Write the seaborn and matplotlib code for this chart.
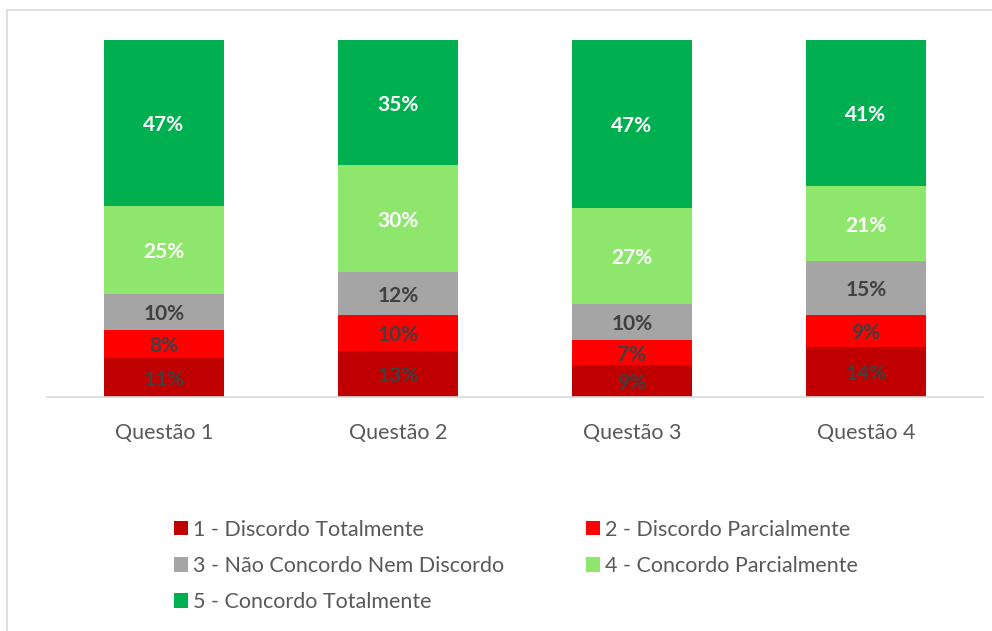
import matplotlib
matplotlib.use('Agg')
import matplotlib.pyplot as plt
import seaborn as sns
import pandas as pd
import numpy as np
from matplotlib.patches import Patch, Rectangle

# data
questions = ['Questão 1', 'Questão 2', 'Questão 3', 'Questão 4']
levels = ['1 - Discordo Totalmente', '2 - Discordo Parcialmente',
          '3 - Não Concordo Nem Discordo', '4 - Concordo Parcialmente',
          '5 - Concordo Totalmente']
discordo_total = [11, 13, 9, 14]
discordo_parcial = [8, 10, 7, 9]
neutro = [10, 12, 10, 15]
concordo_parcial = [25, 30, 27, 21]
concordo_total = [47, 35, 47, 41]

colors = ['#C00000', '#FF0000', '#A5A5A5', '#8FE66C', '#00B050']
label_colors = ['#404040', '#404040', '#404040', 'white', 'white']

sns.set_theme(style='white')
plt.rcParams['font.family'] = ['Lato', 'DejaVu Sans']

series = [discordo_total, discordo_parcial, neutro, concordo_parcial, concordo_total]
df = pd.DataFrame({lvl: vals for lvl, vals in zip(levels, series)}, index=questions)
# 100% stacked, like the original chart
share = df.div(df.sum(axis=1), axis=0) * 100

fig = plt.figure(figsize=(9.92, 6.31), dpi=100)
ax = fig.add_axes([47 / 992, 1 - 397 / 631, 936 / 992, 357 / 631])

bottom = np.zeros(len(questions))
for i, lvl in enumerate(levels):
    sns.barplot(x=questions, y=share[lvl].values, bottom=bottom, color=colors[i],
                width=0.513, ax=ax, saturation=1, linewidth=0)
    for j in range(len(questions)):
        ax.text(j, bottom[j] + share[lvl].values[j] / 2 - 0.6, f"{df[lvl].values[j]}%",
                ha='center', va='center', fontsize=15, fontweight='bold',
                color=label_colors[i])
    bottom += share[lvl].values

ax.set_ylim(0, 100)
ax.set_xlim(-0.5, 3.5)
ax.set_yticks([])
for s in ['top', 'right', 'left']:
    ax.spines[s].set_visible(False)
ax.spines['bottom'].set_color('#D9D9D9')
ax.spines['bottom'].set_linewidth(1.2)
ax.tick_params(axis='x', labelsize=15.5, colors='#595959', pad=19, length=0)

handles = [Patch(facecolor=c, edgecolor='none') for c in colors]
order = [0, 2, 4, 1, 3]
fig.legend([handles[k] for k in order], [levels[k] for k in order],
           loc='center', bbox_to_anchor=(0.52, 1 - 566 / 631), ncol=2,
           frameon=False, fontsize=15.5, labelcolor='#595959',
           handlelength=0.65, handleheight=0.65, handletextpad=0.25,
           columnspacing=3.8, labelspacing=0.75)

# chart border
fig.patches.append(Rectangle((7 / 992, -0.1), 1.2, 1 - 10 / 631 + 0.1,
                             transform=fig.transFigure, fill=False,
                             edgecolor='#D9D9D9', linewidth=1.2))

fig.savefig('out.png', dpi=100)
